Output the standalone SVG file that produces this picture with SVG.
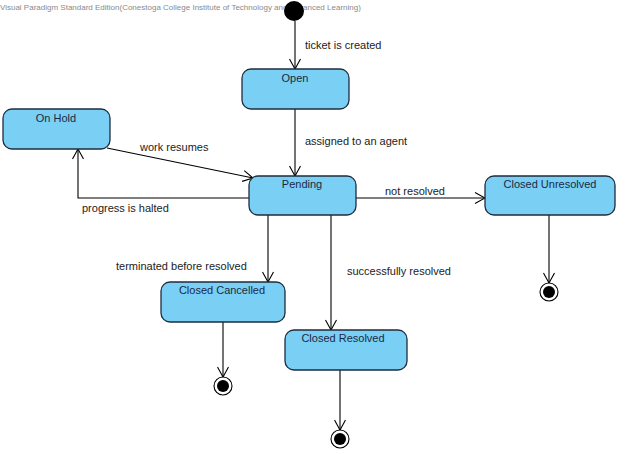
<svg xmlns="http://www.w3.org/2000/svg" width="619" height="453" viewBox="0 0 619 453">
<style>
.st{fill:#7ACFF5;stroke:#1F2D3D;stroke-width:1.3}
.nm{font-family:"Liberation Sans",Arial,sans-serif;font-size:11px;fill:#1A2A44;text-anchor:middle}
.lb{font-family:"Liberation Sans",Arial,sans-serif;font-size:11px;fill:#222}
.ln{fill:none;stroke:#000;stroke-width:1.1}
.wm{font-family:"Liberation Sans",Arial,sans-serif;font-size:8px;fill:#8a8a8a}
</style>
<defs>
<marker id="ar" viewBox="0 0 12 12" refX="11" refY="6" markerWidth="12" markerHeight="12" markerUnits="userSpaceOnUse" orient="auto">
<path d="M1,0.5 L11,6 L1,11.5" fill="none" stroke="#000" stroke-width="1.1"/>
</marker>
</defs>
<rect width="619" height="453" fill="#fff"/>
<text class="wm" x="0" y="10">Visual Paradigm Standard Edition(Conestoga College Institute of Technology and Advanced Learning)</text>
<g id="connectors">
<line class="ln" x1="295" y1="21" x2="295" y2="69" marker-end="url(#ar)"/>
<line class="ln" x1="295" y1="109" x2="295" y2="176" marker-end="url(#ar)"/>
<line class="ln" x1="107" y1="148" x2="253" y2="178" marker-end="url(#ar)"/>
<polyline class="ln" points="249,198 78,198 78,149" marker-end="url(#ar)"/>
<line class="ln" x1="356" y1="198" x2="485" y2="198" marker-end="url(#ar)"/>
<line class="ln" x1="549" y1="215" x2="549" y2="283" marker-end="url(#ar)"/>
<line class="ln" x1="268" y1="215" x2="268" y2="282" marker-end="url(#ar)"/>
<line class="ln" x1="331" y1="215" x2="331" y2="330" marker-end="url(#ar)"/>
<line class="ln" x1="223" y1="322" x2="223" y2="377" marker-end="url(#ar)"/>
<line class="ln" x1="340" y1="370" x2="340" y2="430" marker-end="url(#ar)"/>
<text class="lb" x="305" y="49">ticket is created</text>
<text class="lb" x="305" y="145">assigned to an agent</text>
<text class="lb" x="140" y="151">work resumes</text>
<text class="lb" x="82" y="212">progress is halted</text>
<text class="lb" x="385" y="195">not resolved</text>
<text class="lb" x="116" y="270">terminated before resolved</text>
<text class="lb" x="347" y="275">successfully resolved</text>
</g>
<g id="initial"><circle cx="294" cy="11" r="10" fill="#000"/></g>
<g id="open"><rect class="st" x="242" y="69" width="107" height="40" rx="9"/><text class="nm" x="295" y="82">Open</text></g>
<g id="onhold"><rect class="st" x="3" y="109" width="107" height="40" rx="9"/><text class="nm" x="56" y="122">On Hold</text></g>
<g id="pending"><rect class="st" x="249" y="176" width="107" height="39" rx="9"/><text class="nm" x="302" y="188">Pending</text></g>
<g id="unresolved"><rect class="st" x="485" y="176" width="130" height="39" rx="9"/><text class="nm" x="550" y="188">Closed Unresolved</text></g>
<g id="cancelled"><rect class="st" x="161" y="282" width="124" height="40" rx="9"/><text class="nm" x="222" y="294">Closed Cancelled</text></g>
<g id="resolved"><rect class="st" x="285" y="330" width="122" height="40" rx="9"/><text class="nm" x="343" y="342">Closed Resolved</text></g>
<g id="final1"><circle cx="549" cy="292" r="9" fill="#fff" stroke="#000" stroke-width="1.1"/><circle cx="549" cy="292" r="6" fill="#000"/></g>
<g id="final2"><circle cx="223" cy="386" r="9" fill="#fff" stroke="#000" stroke-width="1.1"/><circle cx="223" cy="386" r="6" fill="#000"/></g>
<g id="final3"><circle cx="340" cy="439" r="9" fill="#fff" stroke="#000" stroke-width="1.1"/><circle cx="340" cy="439" r="6" fill="#000"/></g>
</svg>
